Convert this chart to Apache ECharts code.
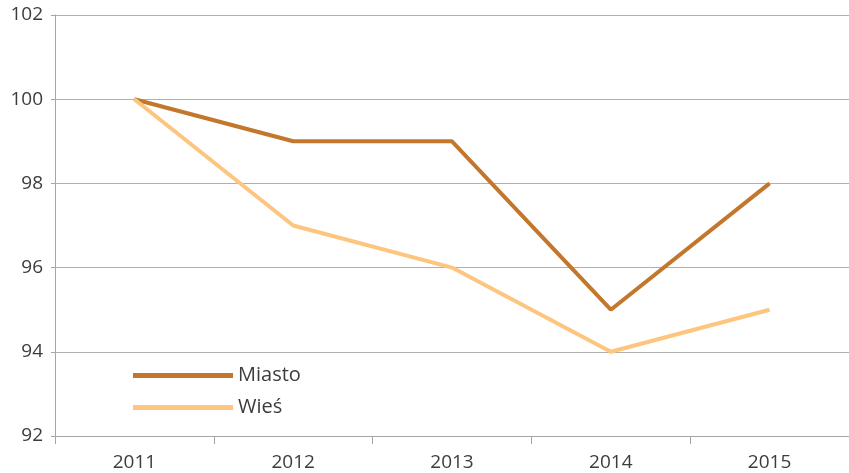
<!DOCTYPE html>
<html>
<head>
<meta charset="utf-8">
<script src="https://cdn.jsdelivr.net/npm/echarts@6/dist/echarts.min.js"></script>
<style>
  html, body { margin: 0; padding: 0; background: #fff; }
  #chart { width: 849px; height: 473px; }
</style>
</head>
<body>
<div id="chart"></div>
<script>
var years = ['2011', '2012', '2013', '2014', '2015'];
var miasto = [100, 99, 99, 95, 98];
var wies = [100, 97, 96, 94, 95];

var myChart = echarts.init(document.getElementById('chart'));
var font = '"Open Sans", "Noto Sans", sans-serif';
var option = {
  animation: false,
  grid: { left: 55, right: 0, top: 15, bottom: 37 },
  legend: {
    orient: 'vertical',
    left: 128,
    top: 360,
    itemWidth: 100,
    itemHeight: 5,
    itemGap: 11,
    icon: 'rect',
    textStyle: { fontFamily: font, fontSize: 20, color: '#3c3c3c', lineHeight: 21 },
    data: ['Miasto', 'Wieś']
  },
  xAxis: {
    type: 'category',
    data: years,
    boundaryGap: true,
    axisLine: { lineStyle: { color: '#a6a6a6', width: 1 } },
    axisTick: { show: true, length: 8, lineStyle: { color: '#a6a6a6' } },
    axisLabel: { fontFamily: font, fontSize: 19, color: '#3c3c3c', margin: 17 }
  },
  yAxis: {
    type: 'value',
    min: 92,
    max: 102,
    interval: 2,
    axisLine: { show: true, lineStyle: { color: '#a6a6a6', width: 1 } },
    axisTick: { show: true, length: 4, lineStyle: { color: '#a6a6a6' } },
    axisLabel: { fontFamily: font, fontSize: 19, color: '#3c3c3c', margin: 12 },
    splitLine: { lineStyle: { color: '#b0b0b0', width: 1 } }
  },
  series: [
    {
      name: 'Miasto',
      type: 'line',
      data: miasto,
      symbol: 'none',
      itemStyle: { color: '#c2772c' },
      lineStyle: { color: '#c2772c', width: 4 }
    },
    {
      name: 'Wieś',
      type: 'line',
      data: wies,
      symbol: 'none',
      itemStyle: { color: '#fdc57e' },
      lineStyle: { color: '#fdc57e', width: 4 }
    }
  ]
};
myChart.setOption(option);
</script>
</body>
</html>
